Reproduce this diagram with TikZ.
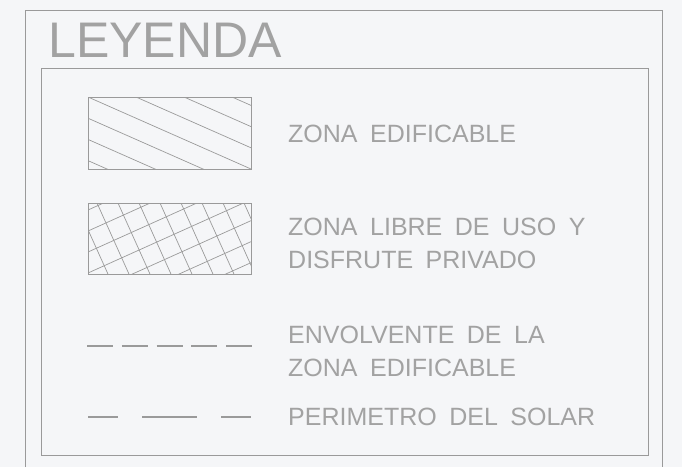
\documentclass[tikz,border=0pt]{standalone}
\usepackage{fontspec}
\setmainfont{Liberation Sans}[WordSpace=1.8]
\usepackage{tikz}
\definecolor{paper}{HTML}{F5F6F8}
\definecolor{ink}{HTML}{A2A2A2}
\definecolor{lineink}{HTML}{9A9A9A}
\tikzset{
	frame/.style={line width=0.8pt, color=lineink},
	hatch/.style={line width=0.7pt, color=lineink},
	lbl/.style={anchor=base west, inner sep=0pt, color=ink, font=\fontsize{25}{30}\selectfont},
}
\begin{document}
\begin{tikzpicture}[x=1pt, y=-1pt]
			%%%%% START %%%%%
			
			\useasboundingbox (0, 0) rectangle (682, 467);
			\fill[paper] (0, 0) rectangle (682, 467);
			
			% frames
			\draw[frame] (25, 467) -- (25, 10) -- (662, 10) -- (662, 467);
			\draw[frame] (41, 68) rectangle (648, 455);
			
			\node[lbl, font=\fontsize{50}{60}\selectfont] (title) at (48, 57) {LEYENDA};
			
			% zona edificable
			\begin{scope}
				\clip (88, 97) rectangle (251, 169);
				\foreach \k in {-3,...,3}
					\draw[hatch] ({88+48*\k}, 97) -- ++(326, 144);
			\end{scope}
			\draw[hatch] (88, 97) rectangle (251, 169);
			\node[lbl] (edif) at (288, 142) {ZONA EDIFICABLE};
			
			% zona libre
			\begin{scope}
				\clip (88, 203) rectangle (251, 274);
				\foreach \k in {-1,...,7}
					\draw[hatch] ({97+21*\k}, 203) -- ++(45, 100);
				\foreach \m in {-1,...,5}
					\draw[hatch] (88, {231+21*\m}) -- ++(200, -90);
			\end{scope}
			\draw[hatch] (88, 203) rectangle (251, 274);
			\node[lbl] (libre) at (288, 235) {ZONA LIBRE DE USO Y};
			\node[lbl] (libre2) at (288, 268) {DISFRUTE PRIVADO};
			
			% envolvente
			\draw[line width=1.4pt, color=lineink, dash pattern=on 26pt off 8.75pt] (87, 346) -- (252, 346);
			\node[lbl] (env) at (288, 343) {ENVOLVENTE DE LA};
			\node[lbl] (env2) at (288, 376) {ZONA EDIFICABLE};
			
			% perimetro
			\draw[line width=1.2pt, color=lineink, dash pattern=on 30pt off 24pt on 55pt off 24pt] (88, 417) -- (252, 417);
			\node[lbl] (perim) at (288, 425) {PERIMETRO DEL SOLAR};
			
			%%%%% END %%%%%
		\end{tikzpicture}
\end{document}
